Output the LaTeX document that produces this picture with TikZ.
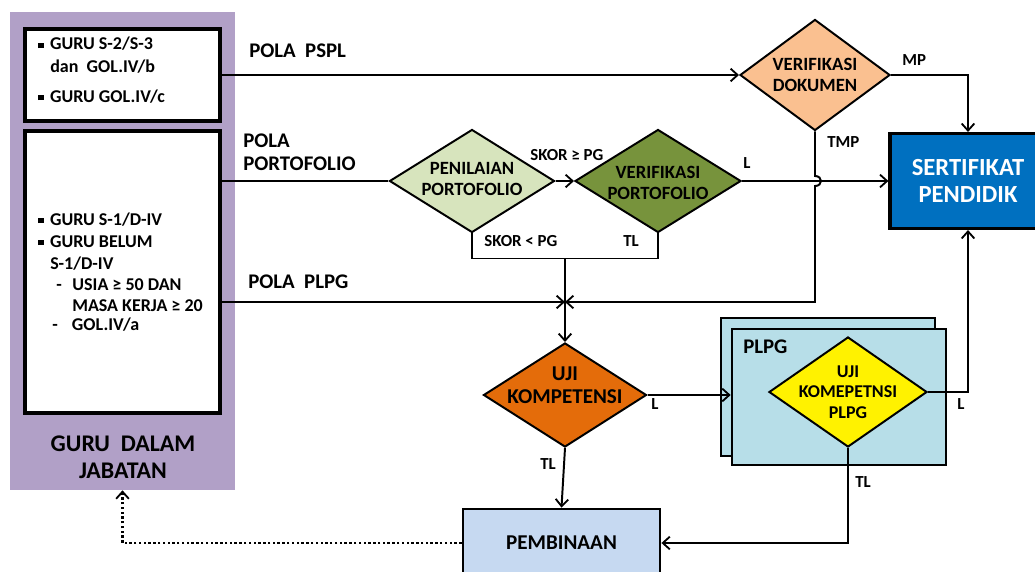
\documentclass[tikz,border=0pt]{standalone}
\usepackage{fontspec}
\setmainfont{Carlito}
\usetikzlibrary{shapes.geometric, arrows.meta, calc}
\tikzset{>={Straight Barb[length=5pt,width=9pt,line width=1.3pt]}}
\definecolor{mypurple}{RGB}{177, 160, 199}
\definecolor{mypeach}{RGB}{250, 192, 144}
\definecolor{mygreen1}{RGB}{215, 228, 189}
\definecolor{mygreen2}{RGB}{119, 147, 60}
\definecolor{myorange}{RGB}{228, 108, 10}
\definecolor{mycyan}{RGB}{183, 222, 232}
\definecolor{myblue}{RGB}{0, 112, 192}
\definecolor{mylblue}{RGB}{198, 217, 241}
\newcommand{\sq}{\makebox[8.5pt][l]{\rule[0.1em]{0.3em}{0.3em}}}

\begin{document}
\begin{tikzpicture}[
    x = 0.025cm, y = -0.025cm,
    l0/.style = {line width = 1.4pt},
    l1/.style = {line width = 1.4pt, ->},
    bx/.style = {draw, line width = 2.2pt, rectangle, inner sep = 0pt},
    dm/.style = {draw, line width = 1.4pt, diamond, inner sep = 0pt},
    dt/.style = {align = center, font = \bfseries\fontsize{13.3}{15}\selectfont},
    lb/.style = {inner sep = 0pt, anchor = base west, font = \bfseries\fontsize{12}{13}\selectfont},
    pl/.style = {inner sep = 0pt, anchor = base west, font = \bfseries\fontsize{14.8}{16}\selectfont},
    it/.style = {inner sep = 0pt, anchor = base west, font = \bfseries\fontsize{12.8}{14}\selectfont}
]
\useasboundingbox (0,0) rectangle (1035,572);
\clip (0,0) rectangle (1035,572);

\node[fill = mypurple, minimum width = 5.625cm, minimum height = 11.95cm, inner sep = 0pt] (guru) at (122.5,251) {};
\node[font = \bfseries\fontsize{17}{19}\selectfont, align = center] (gurut) at (123,457) {GURU\ \ DALAM\\JABATAN};

\node[bx, fill = white, minimum width = 4.875cm, minimum height = 2.3cm] (b1) at (122.5,75) {};
\node[it] (b1a) at (38,50) {\sq GURU S-2/S-3};
\node[it] (b1b) at (50,72) {dan\ \ GOL.IV/b};
\node[it] (b1c) at (38,102) {\sq GURU GOL.IV/c};

\node[bx, fill = white, minimum width = 4.875cm, minimum height = 7.05cm] (b2) at (122.5,272) {};
\node[it] (b2a) at (38,225) {\sq GURU S-1/D-IV};
\node[it] (b2b) at (38,247) {\sq GURU BELUM};
\node[it] (b2c) at (50,269) {S-1/D-IV};
\node[it] (b2d) at (56,290) {\makebox[11.5pt][l]{-}USIA ≥ 50 DAN};
\node[it] (b2e) at (72,311) {MASA KERJA ≥ 20};
\node[it] (b2f) at (52,330) {\makebox[14pt][l]{-}GOL.IV/a};

\node[dm, fill = mypeach, minimum width = 3.75cm, minimum height = 2.775cm, label = {[dt]center:VERIFIKASI\\DOKUMEN}] (dok) at (815,75) {};
\node[dm, fill = mygreen1, minimum width = 4.125cm, minimum height = 2.575cm, label = {[dt, yshift = 1.5pt]center:PENILAIAN\\PORTOFOLIO}] (nil) at (472,181) {};
\node[dm, fill = mygreen2, minimum width = 4.15cm, minimum height = 2.575cm, label = {[dt, yshift = -1.5pt]center:VERIFIKASI\\PORTOFOLIO}] (vport) at (658,181) {};
\node[bx, fill = myblue, minimum width = 3.9cm, minimum height = 2.375cm, text = white, align = center, font = \bfseries\fontsize{17.5}{19}\selectfont] (sert) at (968,181) {SERTIFIKAT\\PENDIDIK};

\node[dm, fill = myorange, minimum width = 4.075cm, minimum height = 2.6cm, label = {[dt, font = \bfseries\fontsize{15}{16.5}\selectfont, yshift = 7pt]center:UJI\\KOMPETENSI}] (uji) at (565,395) {};

\node[bx, line width = 1.8pt, fill = mycyan, minimum width = 5.35cm, minimum height = 3.45cm] (plb) at (828,387) {};
\node[bx, line width = 1.8pt, fill = mycyan, minimum width = 5.35cm, minimum height = 3.4cm] (plf) at (839,397) {};
\node[pl] (plpgt) at (743,353) {PLPG};
\node[dm, fill = yellow, minimum width = 3.95cm, minimum height = 2.75cm, label = {[dt, font = \bfseries\fontsize{12.8}{14.5}\selectfont]center:UJI\\KOMEPETNSI\\PLPG}] (ujip) at (848,392) {};

\node[bx, line width = 2pt, fill = mylblue, minimum width = 4.925cm, minimum height = 1.7cm, font = \bfseries\fontsize{15}{16}\selectfont] (pemb) at (561.5,543) {PEMBINAAN};

\coordinate (j1) at (565,258.5);
\coordinate (j2) at (565,302);

\node[pl] (pspl) at (249,57) {POLA\ \ PSPL};
\node[pl] (ppor1) at (243,147) {POLA};
\node[pl] (ppor2) at (243,170) {PORTOFOLIO};
\node[pl] (pplpg) at (248,288) {POLA\ \ PLPG};
\node[lb] (skor1) at (530,160) {SKOR ≥ PG};
\node[lb] (skor2) at (484,246) {SKOR < PG};
\node[lb] (tla) at (623,246) {TL};
\node[lb] (la) at (743,168) {L};
\node[lb] (mp) at (902,65) {MP};
\node[lb] (tmp) at (827,147) {TMP};
\node[lb] (lb) at (651,409) {L};
\node[lb] (tlb) at (540,469) {TL};
\node[lb] (lc) at (957,409) {L};
\node[lb] (tlc) at (855,487) {TL};

\draw[l1] (b1.east) -- (dok.west);
\draw[l0] (b2.east |- nil.west) -- (nil.west);
\draw[l1] (nil.east) -- (vport.west);
\draw[l1] (vport.east) -- (sert.west);
\draw[l1] (dok.east) -| (sert.north);
\draw[l1] (dok.south) -- ($(dok.south |- vport.east)+(0,-5)$) .. controls +(8,0) and +(8,0) .. ($(dok.south |- vport.east)+(0,5)$) -- (dok.south |- j2) -- (j2);
\draw[l1] (b2.east |- j2) -- (j2);
\draw[l0] (nil.south) |- (j1) -| (vport.south);
\draw[l1] (j1) -- (uji.north);
\draw[l1] (uji.east) -- (plf.west |- uji.east);
\draw[l1] (uji.south) -- (pemb.north);
\draw[l1] (ujip.east) -| (sert.south);
\draw[l1] (ujip.south) |- (pemb.east);
\draw[l1, line width = 1.7pt, dash pattern = on 1.7pt off 1.7pt] (pemb.west) -| (guru.south);
\end{tikzpicture}
\end{document}
